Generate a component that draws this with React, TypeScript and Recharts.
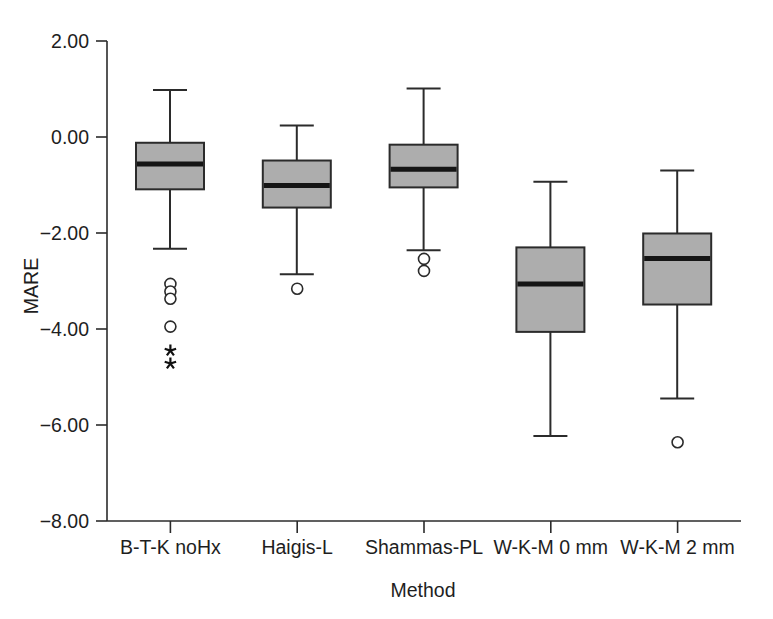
import { ComposedChart, Bar, Line, XAxis, YAxis } from 'recharts';

const categories = ['B-T-K noHx', 'Haigis-L', 'Shammas-PL', 'W-K-M 0 mm', 'W-K-M 2 mm'];
const whiskerLow = [-2.33, -2.86, -2.36, -6.23, -5.45];
const q1 = [-1.09, -1.47, -1.05, -4.06, -3.49];
const median = [-0.56, -1.01, -0.67, -3.06, -2.53];
const q3 = [-0.12, -0.49, -0.16, -2.3, -2.01];
const whiskerHigh = [0.98, 0.24, 1.01, -0.93, -0.7];
// circles = outliers, stars = extremes
const outlierCircles = [[-3.06, -3.22, -3.37, -3.95], [-3.16], [-2.54, -2.79], [], [-6.36]];
const extremeStars = [[-4.45, -4.72], [], [], [], []];
const yTicks = [2, 0, -2, -4, -6, -8];

const data = categories.map((name, i) => ({
  name,
  low: whiskerLow[i],
  q1: q1[i],
  median: median[i],
  q3: q3[i],
  high: whiskerHigh[i],
  o0: outlierCircles[i][0] ?? null,
  o1: outlierCircles[i][1] ?? null,
  o2: outlierCircles[i][2] ?? null,
  o3: outlierCircles[i][3] ?? null,
  s0: extremeStars[i][0] ?? null,
  s1: extremeStars[i][1] ?? null,
}));

const FONT = '"Liberation Sans", Arial, Helvetica, sans-serif';
const FS = 19.5;
const INK = '#2b2b2b';

const BoxShape = (props: any) => {
  const { x, y, width, height, payload } = props;
  const top = Math.min(y, y + height);
  const bot = Math.max(y, y + height);
  const { low, high } = payload;
  const py = (v: number) => top + ((high - v) / (high - low)) * (bot - top);
  const cx = x + width / 2;
  const capHalf = 17;
  return (
    <g>
      <line x1={cx} x2={cx} y1={top} y2={bot} stroke={INK} strokeWidth={2} />
      <line x1={cx - capHalf} x2={cx + capHalf} y1={top} y2={top} stroke={INK} strokeWidth={2} />
      <line x1={cx - capHalf} x2={cx + capHalf} y1={bot} y2={bot} stroke={INK} strokeWidth={2} />
      <rect
        x={x}
        y={py(payload.q3)}
        width={width}
        height={py(payload.q1) - py(payload.q3)}
        fill="#adadad"
        stroke={INK}
        strokeWidth={2}
      />
      <line x1={x + 1} x2={x + width - 1} y1={py(payload.median)} y2={py(payload.median)} stroke="#151515" strokeWidth={5} />
    </g>
  );
};

const circleDot = (props: any) => {
  const { cx, cy, value, index, dataKey } = props;
  if (value == null || cy == null || isNaN(cy)) return <g key={`${dataKey}-${index}`} />;
  return <circle key={`${dataKey}-${index}`} cx={cx} cy={cy} r={5.5} fill="#fff" stroke={INK} strokeWidth={1.6} />;
};

const starDot = (props: any) => {
  const { cx, cy, value, index, dataKey } = props;
  if (value == null || cy == null || isNaN(cy)) return <g key={`${dataKey}-${index}`} />;
  const r = 6;
  const arms = [-90, -18, 54, 126, 198].map((a) => {
    const rad = (a * Math.PI) / 180;
    return `M${cx},${cy}L${cx + r * Math.cos(rad)},${cy + r * Math.sin(rad)}`;
  });
  return <path key={`${dataKey}-${index}`} d={arms.join('')} stroke="#111" strokeWidth={2.2} fill="none" />;
};

const fmt = (v: number) => v.toFixed(2).replace('-', '\u2212');

export default function App() {
  return (
    <div style={{ width: 757, height: 603, background: '#fff' }}>
      <ComposedChart width={757} height={603} data={data} margin={{ top: 33, right: 24, left: 19, bottom: 30 }}>
        <XAxis
          dataKey="name"
          height={60}
          tickSize={12}
          tickMargin={7}
          axisLine={{ stroke: INK, strokeWidth: 1.6 }}
          tickLine={{ stroke: INK, strokeWidth: 1.6 }}
          tick={{ fill: '#1e1e1e', fontSize: FS, fontFamily: FONT }}
          interval={0}
          label={{
            content: () => (
              <text x={415} y={582} textAnchor="middle" dominantBaseline="central" fill="#1e1e1e" fontSize={FS} fontFamily={FONT}>
                Method
              </text>
            ),
          }}
        />
        <YAxis
          type="number"
          domain={[-8, 2]}
          ticks={yTicks}
          width={80}
          tickSize={11}
          tickMargin={7}
          tickFormatter={fmt}
          axisLine={{ stroke: INK, strokeWidth: 1.6 }}
          tickLine={{ stroke: INK, strokeWidth: 1.6 }}
          tick={{ fill: '#1e1e1e', fontSize: FS, fontFamily: FONT }}
          label={{
            content: () => (
              <text
                x={23}
                y={278}
                transform="rotate(-90 23 278)"
                textAnchor="middle"
                dominantBaseline="central"
                fill="#1e1e1e"
                fontSize={FS}
                fontFamily={FONT}
              >
                MARE
              </text>
            ),
          }}
        />
        <Bar dataKey={(d: any) => [d.low, d.high]} barSize={68} shape={BoxShape} isAnimationActive={false} />
        {['o0', 'o1', 'o2', 'o3'].map((k) => (
          <Line key={k} dataKey={k} stroke="none" dot={circleDot} activeDot={false} isAnimationActive={false} legendType="none" />
        ))}
        {['s0', 's1'].map((k) => (
          <Line key={k} dataKey={k} stroke="none" dot={starDot} activeDot={false} isAnimationActive={false} legendType="none" />
        ))}
      </ComposedChart>
    </div>
  );
}
